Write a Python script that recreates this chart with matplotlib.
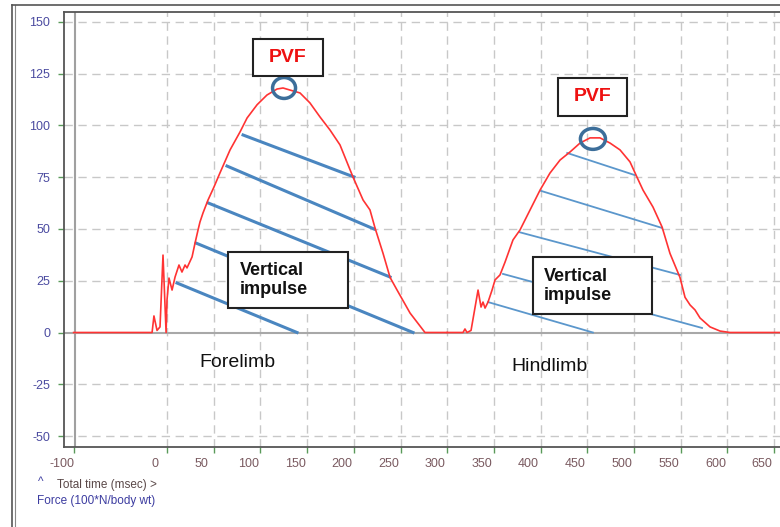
import matplotlib
matplotlib.use("Agg")
import matplotlib.pyplot as plt
import matplotlib.patches as mpatches
import matplotlib.transforms as mtransforms
from matplotlib.lines import Line2D

plt.rcParams['font.family'] = ['Liberation Sans', 'DejaVu Sans']

# Force trace, forelimb strike (time in msec, force in 100*N/body wt)
fore_time = [-100, -16, -14, -10.7, -7.5, -4.3, -1, 0, 2.1, 5.4, 8.6, 12.8, 16, 19.3, 21.4,
             26.8, 30, 33.2, 35.3, 38.5, 43.9, 50, 56.7, 67.5, 78.2, 85.7, 96.4, 107,
             117.8, 124.2, 131.7, 142.4, 153, 163.8, 174.5, 185.2, 199.1, 209.9, 217.3,
             222.7, 231.3, 238.8, 246.3, 260.2, 276.2, 300]
fore_force = [0, 0, 8, 1, 2.7, 37.4, 0, 15.7, 26.3, 20.5, 26.8, 32.6, 29.2, 32.6, 31.2,
              36.5, 43.2, 49.5, 53.4, 57.7, 64, 70, 77.1, 88.2, 96.9, 103.6, 110, 114.7,
              117.6, 118.1, 117.1, 115.7, 110.9, 104.1, 97.8, 90.6, 75.1, 64, 59.2,
              50.5, 38.2, 26.6, 20.5, 9.4, 0, 0]

# Force trace, hindlimb strike
hind_time = [300, 316.9, 319, 321.2, 325.5, 333, 336.2, 338.3, 340.5, 343.7, 348, 351.2,
             356.5, 361.9, 370.4, 377.9, 388.7, 399.4, 410, 420.8, 431.5, 442.2, 452.9,
             463.6, 474.3, 485, 495.7, 503.2, 509.6, 520.3, 530, 538.5, 549.2, 554.6,
             560, 565.3, 570.7, 581.4, 592.1, 602.8, 670]
hind_force = [0, 0, 1.7, 0, 1, 20.5, 12.3, 14.7, 11.8, 14.7, 20.5, 25.4,
              27.8, 34, 44.7, 49.5, 59.2, 68.8, 77, 83.3, 87.2, 91.5, 94,
              94, 91.5, 88.2, 82.4, 75, 68.8, 60.6, 51, 38.2, 26.6, 17,
              13.3, 10.9, 7, 2.7, 0.7, 0, 0]

# Hatching under each curve: (t0, f0, t1, f1)
fore_hatch = [(81.4, 95.4, 200.2, 75.1),
              (64.2, 80.4, 221.6, 50.0),
              (43.9, 62.6, 238.8, 26.8),
              (31.0, 43.2, 263.4, 0.0),
              (10.7, 23.9, 139.2, 0.0)]
hind_hatch = [(428.5, 86.7, 501.0, 76.0),
              (400.4, 68.4, 530.0, 50.5),
              (376.9, 48.5, 549.2, 27.8),
              (359.7, 28.3, 572.8, 2.2),
              (343.7, 14.7, 456.0, 0.0)]

# Peak vertical force of each strike
fore_peak = (125.3, 118.1)
hind_peak = (456.0, 93.5)

x_ticks = [-100, 0, 50, 100, 150, 200, 250, 300, 350, 400, 450, 500, 550, 600, 650]
y_ticks = [150, 125, 100, 75, 50, 25, 0, -25, -50]

fig = plt.figure(figsize=(7.8, 5.27), dpi=100)
ax = fig.add_axes([64 / 780, 80 / 527, 726 / 780, 435 / 527])
ax.set_xlim(-110.3, 667)
ax.set_ylim(-55.3, 154.8)

# grid and reference lines
for t in x_ticks[1:]:
    ax.axvline(t, color='#c8c8c8', lw=1, ls=(0, (6, 4)), zorder=0)
for v in y_ticks:
    if v != 0:
        ax.axhline(v, color='#c8c8c8', lw=1, ls=(0, (6, 4)), zorder=0)
ax.axhline(0, color='#a8a8a8', lw=1.5, zorder=1)
ax.axvline(-98, color='#a0a0a0', lw=1.5, zorder=1)

# hatch lines
for t0, f0, t1, f1 in fore_hatch:
    ax.plot([t0, t1], [f0, f1], color='#4a86c0', lw=2.2, zorder=2)
for t0, f0, t1, f1 in hind_hatch:
    ax.plot([t0, t1], [f0, f1], color='#5b97cc', lw=1.3, zorder=2)

# force traces
ax.plot(fore_time, fore_force, color='#ff3333', lw=1.2, zorder=3)
ax.plot(hind_time, hind_force, color='#ff3333', lw=1.2, zorder=3)

# PVF markers and labels
for (t, f), w in [(fore_peak, 24.6), (hind_peak, 26.8)]:
    ax.add_patch(mpatches.Ellipse((t, f), w, 10.1, fill=False,
                                  edgecolor='#3c6e9a', lw=2.5, zorder=4))

boxes = [(92.1, 123.9, 74.9, 17.9), (418.6, 104.6, 73.9, 18.3),
         (65.3, 11.8, 128.5, 27.1), (391.9, 8.9, 127.4, 27.6)]
for x0, y0, w, h in boxes:
    ax.add_patch(mpatches.Rectangle((x0, y0), w, h, facecolor='white',
                                    edgecolor='#222222', lw=1.5, zorder=5))

ax.text(129.6, 132.8, 'PVF', color='#ee1111', fontsize=14, fontweight='bold',
        ha='center', va='center', zorder=6)
ax.text(455.6, 113.8, 'PVF', color='#ee1111', fontsize=14, fontweight='bold',
        ha='center', va='center', zorder=6)
ax.text(78.2, 25.5, 'Vertical\nimpulse', color='#111111', fontsize=13,
        fontweight='bold', ha='left', va='center', linespacing=1.15, zorder=6)
ax.text(403.6, 22.4, 'Vertical\nimpulse', color='#111111', fontsize=13,
        fontweight='bold', ha='left', va='center', linespacing=1.15, zorder=6)

ax.text(75, -14.3, 'Forelimb', color='#111111', fontsize=14, ha='center', va='center')
ax.text(410, -16.2, 'Hindlimb', color='#111111', fontsize=14, ha='center', va='center')

# axes styling
ax.set_xticks(x_ticks)
ax.set_yticks(y_ticks)
ax.set_xticklabels([str(t) for t in x_ticks])
ax.set_yticklabels([str(v) for v in y_ticks])
ax.tick_params(axis='x', direction='out', length=4, width=1, color='#5a9a5a',
               labelsize=9, labelcolor='#7a5a60', pad=4)
ax.tick_params(axis='y', direction='out', length=4, width=1, color='#5a9a5a',
               labelsize=9, labelcolor='#4b4ba0', pad=6)
shift = mtransforms.ScaledTranslation(-0.12, 0, fig.dpi_scale_trans)
for lab in ax.get_xticklabels():
    lab.set_transform(lab.get_transform() + shift)
for side in ['left', 'top', 'bottom']:
    ax.spines[side].set_color('#555555')
    ax.spines[side].set_linewidth(1.3)
ax.spines['right'].set_visible(False)

# outer panel frame
fig.add_artist(Line2D([12.5 / 780, 12.5 / 780], [0, 1 - 5 / 527], color='#555555', lw=1.2))
fig.add_artist(Line2D([14.5 / 780, 14.5 / 780], [0, 1 - 5 / 527], color='#888888', lw=0.8))
fig.add_artist(Line2D([12.5 / 780, 1], [1 - 5 / 527, 1 - 5 / 527], color='#555555', lw=1.2))

fig.text(38 / 780, 1 - 482 / 527, '^', color='#3c3ca0', fontsize=8.5, va='center')
fig.text(57 / 780, 1 - 485 / 527, 'Total time (msec) >', color='#5a4848',
         fontsize=8.5, va='center')
fig.text(37 / 780, 1 - 501 / 527, 'Force (100*N/body wt)', color='#3c3ca0',
         fontsize=8.5, va='center')

fig.savefig('out.png', dpi=100)
